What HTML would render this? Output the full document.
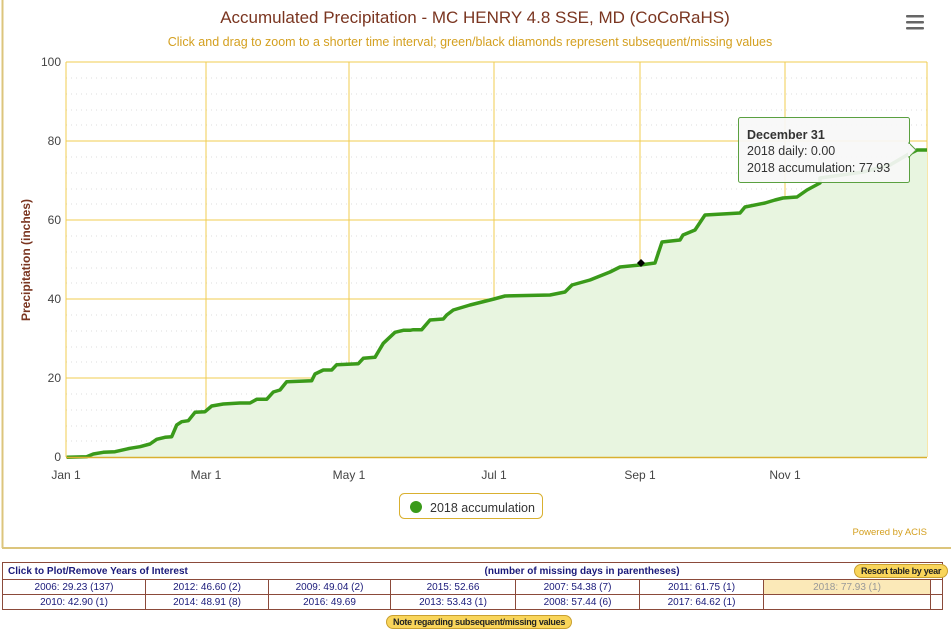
<!DOCTYPE html>
<html><head><meta charset="utf-8"><style>
body{margin:0;width:951px;height:636px;background:#fff;font-family:"Liberation Sans",sans-serif;overflow:hidden;position:relative}
table{border-collapse:collapse;position:absolute;left:2px;top:562px;width:940px;font-size:10px;color:#1a1a7a;table-layout:fixed}
td{border:1px solid #8b4a3a;height:14px;text-align:center;padding:0;white-space:nowrap;overflow:hidden}
.btn{position:absolute;background:#f9d55a;border:1px solid #c9a030;border-radius:7px;font-size:9px;font-weight:bold;color:#222;padding:1px 6px;white-space:nowrap;letter-spacing:-0.3px}
</style></head><body>
<svg width="951" height="552" style="position:absolute;left:0;top:0">
<line x1="2.5" y1="0" x2="2.5" y2="548" stroke="#dcc57c" stroke-width="2"/>
<line x1="2" y1="548" x2="951" y2="548" stroke="#dcc57c" stroke-width="2"/>
<text x="475" y="23" text-anchor="middle" font-size="17" fill="#7a3520">Accumulated Precipitation - MC HENRY 4.8 SSE, MD (CoCoRaHS)</text>
<text x="470" y="46" text-anchor="middle" font-size="12.5" fill="#d4a020">Click and drag to zoom to a shorter time interval; green/black diamonds represent subsequent/missing values</text>
<g fill="#666"><rect x="906" y="15" width="18" height="2.5" rx="1"/><rect x="906" y="21" width="18" height="2.5" rx="1"/><rect x="906" y="27" width="18" height="2.5" rx="1"/></g>
<g stroke="#ddd" stroke-dasharray="1,4" stroke-width="1">
<line x1="66" x2="927" y1="78" y2="78"/><line x1="66" x2="927" y1="94" y2="94"/><line x1="66" x2="927" y1="110" y2="110"/><line x1="66" x2="927" y1="125" y2="125"/>
<line x1="66" x2="927" y1="157" y2="157"/><line x1="66" x2="927" y1="173" y2="173"/><line x1="66" x2="927" y1="189" y2="189"/><line x1="66" x2="927" y1="204" y2="204"/>
<line x1="66" x2="927" y1="236" y2="236"/><line x1="66" x2="927" y1="252" y2="252"/><line x1="66" x2="927" y1="268" y2="268"/><line x1="66" x2="927" y1="283" y2="283"/>
<line x1="66" x2="927" y1="315" y2="315"/><line x1="66" x2="927" y1="331" y2="331"/><line x1="66" x2="927" y1="347" y2="347"/><line x1="66" x2="927" y1="362" y2="362"/>
<line x1="66" x2="927" y1="394" y2="394"/><line x1="66" x2="927" y1="410" y2="410"/><line x1="66" x2="927" y1="426" y2="426"/><line x1="66" x2="927" y1="441" y2="441"/>
</g>
<g stroke="#f0cc50" stroke-width="1">
<line x1="66" x2="927" y1="62" y2="62"/><line x1="66" x2="927" y1="141" y2="141"/><line x1="66" x2="927" y1="220" y2="220"/><line x1="66" x2="927" y1="299" y2="299"/><line x1="66" x2="927" y1="378" y2="378"/>
<line x1="66" x2="66" y1="62" y2="457"/><line x1="206" x2="206" y1="62" y2="457"/><line x1="349" x2="349" y1="62" y2="457"/><line x1="494" x2="494" y1="62" y2="457"/><line x1="640" x2="640" y1="62" y2="457"/><line x1="785" x2="785" y1="62" y2="457"/><line x1="927" x2="927" y1="62" y2="457"/>
</g>
<g font-size="12" fill="#444">
<text x="61" y="66" text-anchor="end">100</text><text x="61" y="145" text-anchor="end">80</text><text x="61" y="224" text-anchor="end">60</text><text x="61" y="303" text-anchor="end">40</text><text x="61" y="382" text-anchor="end">20</text><text x="61" y="461" text-anchor="end">0</text>
<text x="66" y="479" text-anchor="middle">Jan 1</text><text x="206" y="479" text-anchor="middle">Mar 1</text><text x="349" y="479" text-anchor="middle">May 1</text><text x="494" y="479" text-anchor="middle">Jul 1</text><text x="640" y="479" text-anchor="middle">Sep 1</text><text x="785" y="479" text-anchor="middle">Nov 1</text>
</g>
<text transform="translate(30,260) rotate(-90)" text-anchor="middle" font-size="12" font-weight="bold" fill="#7a3520">Precipitation (inches)</text>
<polygon fill="#e8f5e0" points="66.7,457.3 86.7,456.7 93.3,454 103.3,452.3 115,451.7 130,448.3 140,446.7 150,444 156.7,439.3 165,437.3 171.7,436.7 176.7,425 181.7,421.7 188.3,420.7 195,412.3 205,411.7 211.7,406 223.3,404 240,403 250,403 256.7,399.3 266.7,399.3 273.3,392 280,390 286.7,381.7 311.7,380.7 315,374 323.3,370 331.7,370 336.7,364.7 358.3,363.7 363.3,358.3 375,357.3 383.3,343.3 395,332.3 403.3,330.3 410,330.3 413.3,329.7 421.7,329.7 430,320 443.3,319 446.7,315 453.3,310 470,305 494,299 505,296 550,295 565,292 572,285 590,280 610,272 620,267 640,265 655,263 662,242 680,240 683,235 695,230 705,215 740,213 745,207 765,203 775,200 783,198 797,197 807,190 820,183 820,178 863,172 890,165 907,155 917,150 927,150 927,457"/>
<polyline fill="none" stroke="#3a9a1a" stroke-width="3.5" stroke-linejoin="round" points="66.7,457.3 86.7,456.7 93.3,454 103.3,452.3 115,451.7 130,448.3 140,446.7 150,444 156.7,439.3 165,437.3 171.7,436.7 176.7,425 181.7,421.7 188.3,420.7 195,412.3 205,411.7 211.7,406 223.3,404 240,403 250,403 256.7,399.3 266.7,399.3 273.3,392 280,390 286.7,381.7 311.7,380.7 315,374 323.3,370 331.7,370 336.7,364.7 358.3,363.7 363.3,358.3 375,357.3 383.3,343.3 395,332.3 403.3,330.3 410,330.3 413.3,329.7 421.7,329.7 430,320 443.3,319 446.7,315 453.3,310 470,305 494,299 505,296 550,295 565,292 572,285 590,280 610,272 620,267 640,265 655,263 662,242 680,240 683,235 695,230 705,215 740,213 745,207 765,203 775,200 783,198 797,197 807,190 820,183 820,178 863,172 890,165 907,155 917,150 927,150"/>
<line x1="66" x2="927" y1="457.5" y2="457.5" stroke="#d9b030" stroke-width="1.5"/>
<polygon points="641,259 645,263 641,267 637,263" fill="#000"/>
<g>
<rect x="738.5" y="117.5" width="171" height="65" rx="2" fill="#f7f7f7" fill-opacity="0.92" stroke="#5aa040"/>
<polygon points="909,143 916,150 909,157" fill="#f7f7f7" stroke="#5aa040"/>
<line x1="909" y1="144" x2="909" y2="156" stroke="#f7f7f7" stroke-width="2"/>
<text x="747" y="139" font-size="12.5" font-weight="bold" fill="#333">December 31</text>
<text x="747" y="155" font-size="12.5" fill="#333">2018 daily: 0.00</text>
<text x="747" y="172" font-size="12.5" fill="#333">2018 accumulation: 77.93</text>
</g>
<rect x="399.5" y="493.5" width="143" height="25" rx="5" fill="#fff" stroke="#d9b030"/>
<circle cx="416" cy="507" r="6" fill="#3a9a1a"/>
<text x="430" y="512" font-size="12.5" fill="#333">2018 accumulation</text>
<text x="927" y="535" text-anchor="end" font-size="9.5" fill="#d4a020">Powered by ACIS</text>
</svg>
<table>
<colgroup><col style="width:143px"><col style="width:123px"><col style="width:122px"><col style="width:125px"><col style="width:124px"><col style="width:124px"><col style="width:167px"><col style="width:12px"></colgroup>
<tr><td colspan="3" style="text-align:left;padding-left:5px;font-weight:bold;height:16px;border-right:none">Click to Plot/Remove Years of Interest</td><td colspan="5" style="font-weight:bold;border-left:none;text-align:left;padding-left:94px">(number of missing days in parentheses)</td></tr>
<tr><td>2006: 29.23 (137)</td><td>2012: 46.60 (2)</td><td>2009: 49.04 (2)</td><td>2015: 52.66</td><td>2007: 54.38 (7)</td><td>2011: 61.75 (1)</td><td style="background:#fbe9b8;color:#999">2018: 77.93 (1)</td><td></td></tr>
<tr><td>2010: 42.90 (1)</td><td>2014: 48.91 (8)</td><td>2016: 49.69</td><td>2013: 53.43 (1)</td><td>2008: 57.44 (6)</td><td>2017: 64.62 (1)</td><td></td><td></td></tr>
</table>
<div class="btn" style="left:854px;top:564px">Resort table by year</div>
<div class="btn" style="left:386px;top:615px">Note regarding subsequent/missing values</div>
</body></html>
